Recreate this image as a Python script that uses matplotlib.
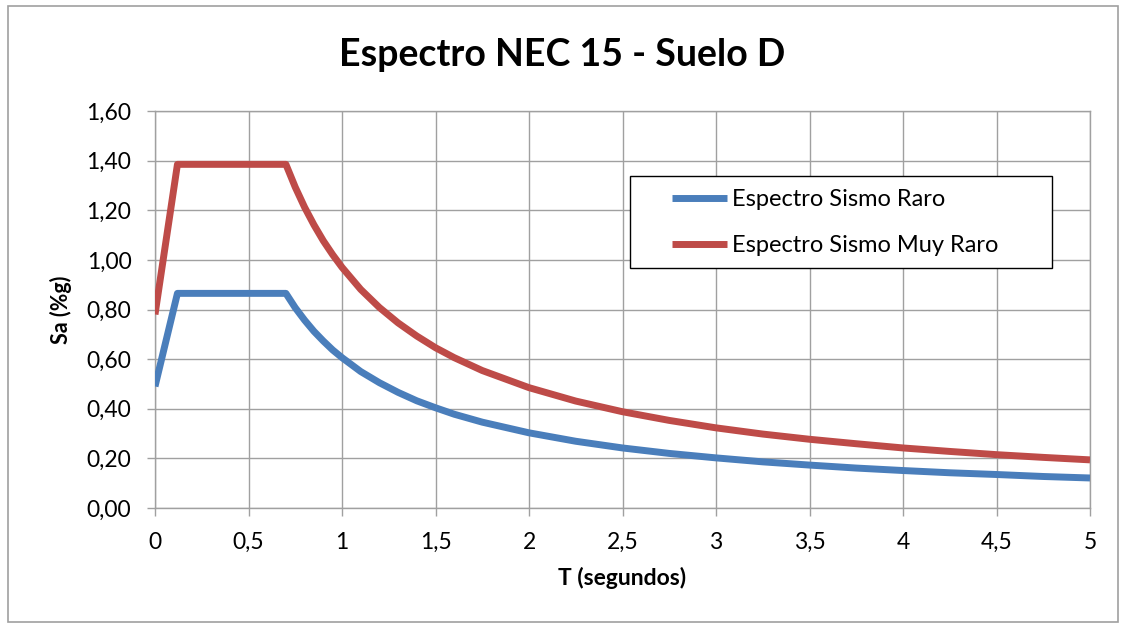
import matplotlib
matplotlib.use("Agg")
import matplotlib.pyplot as plt
from matplotlib.patches import Rectangle
from matplotlib.ticker import FuncFormatter, MultipleLocator

# Data
T = [0.0, 0.12, 0.2, 0.3, 0.4, 0.5, 0.6, 0.70, 0.75, 0.8, 0.85, 0.9, 0.95, 1.0, 1.1, 1.2,
     1.3, 1.4, 1.5, 1.6, 1.75, 2.0, 2.25, 2.5, 2.75, 3.0, 3.25, 3.5, 3.75, 4.0, 4.25,
     4.5, 4.75, 5.0]
sismo_raro = [0.49, 0.865, 0.865, 0.865, 0.865, 0.865, 0.865, 0.865, 0.807, 0.757, 0.712,
              0.673, 0.637, 0.606, 0.550, 0.505, 0.466, 0.432, 0.404, 0.378, 0.346, 0.303,
              0.269, 0.242, 0.220, 0.202, 0.186, 0.173, 0.161, 0.151, 0.142, 0.135,
              0.127, 0.121]
sismo_muy_raro = [0.78, 1.385, 1.385, 1.385, 1.385, 1.385, 1.385, 1.385, 1.293, 1.212, 1.141,
                  1.077, 1.021, 0.970, 0.881, 0.808, 0.746, 0.693, 0.646, 0.606, 0.554, 0.485,
                  0.431, 0.388, 0.353, 0.323, 0.298, 0.277, 0.259, 0.242, 0.228, 0.215,
                  0.204, 0.194]
labels = ["Espectro Sismo Raro", "Espectro Sismo Muy Raro"]
title = "Espectro NEC 15 - Suelo D"

plt.rcParams['font.family'] = ['Lato', 'DejaVu Sans']

W, H = 1125, 628
fig = plt.figure(figsize=(W/100, H/100), dpi=100)
x0, x1, y0, y1 = 155, 1090, 111, 508
ax = fig.add_axes([x0/W, 1 - y1/H, (x1-x0)/W, (y1-y0)/H])

ax.plot(T, sismo_raro, color='#4a7ebb', lw=5, label=labels[0], solid_capstyle='butt', zorder=3)
ax.plot(T, sismo_muy_raro, color='#be4b48', lw=5, label=labels[1], solid_capstyle='butt', zorder=3)

ax.set_xlim(0, 5)
ax.set_ylim(0, 1.6)
ax.xaxis.set_major_locator(MultipleLocator(0.5))
ax.yaxis.set_major_locator(MultipleLocator(0.2))

ax.xaxis.set_major_formatter(FuncFormatter(lambda v, p: f"{v:g}".replace('.', ',')))
ax.yaxis.set_major_formatter(FuncFormatter(lambda v, p: f"{v:.2f}".replace('.', ',')))

ax.grid(True, color='#a0a0a0', lw=1.0)
ax.set_axisbelow(True)
for s in ax.spines.values():
    s.set_color('#a0a0a0')
    s.set_linewidth(1.0)
ax.tick_params(axis='both', colors='#a0a0a0', labelcolor='black', labelsize=16.5, length=6, width=1)
ax.tick_params(axis='y', pad=11)
ax.tick_params(axis='x', pad=11)

ax.set_xlabel("T (segundos)", fontsize=16.5, fontweight='bold', labelpad=10)
ax.set_ylabel("Sa (%g)", fontsize=15.5, fontweight='bold', labelpad=10)
fig.text(0.5, 1 - 55/H, title, ha='center', va='center', fontsize=27, fontweight='bold')

# legend box
ax.add_patch(Rectangle(((630-x0)/(x1-x0), 1 - (268-y0)/(y1-y0)), (1052-630)/(x1-x0), (268-176)/(y1-y0),
                       transform=ax.transAxes, facecolor='white', edgecolor='black', lw=1.0, zorder=5))
leg = ax.legend(loc='upper left', bbox_to_anchor=((672-x0)/(x1-x0), 1 - (189-y0)/(y1-y0)),
                frameon=False, fontsize=17, handlelength=2.35,
                borderpad=0, labelspacing=1.05, handletextpad=0.2, borderaxespad=0)
leg.set_zorder(6)

fig.patches.append(Rectangle((8/W, 1 - 622/H), (1118-8)/W, (622-6)/H,
                             transform=fig.transFigure, fill=False, edgecolor='#a0a0a0', lw=1.2))

fig.savefig("out.png", dpi=100)
